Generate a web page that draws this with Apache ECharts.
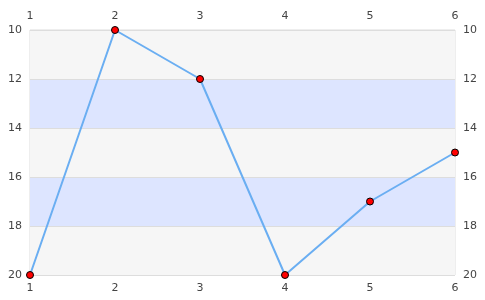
<!DOCTYPE html>
<html><head><meta charset="utf-8">
<script src="https://cdn.jsdelivr.net/npm/echarts@6/dist/echarts.min.js"></script>
<style>html,body{margin:0;padding:0;background:#fff}#c{width:485px;height:300px}</style>
</head><body><div id="c"></div>
<script>
const categories = [1, 2, 3, 4, 5, 6];
const values = [20, 10, 12, 20, 17, 15];
const chart = echarts.init(document.getElementById('c'));
const data = categories.map((c, i) => [c, values[i]]);
const xBase = {type:'value', min:1, max:6, interval:1,
  axisLine:{show:false}, axisTick:{show:false}, splitLine:{show:false},
  axisLabel:{color:'#444', fontSize:11, fontFamily:'DejaVu Sans'}};
const yBase = {type:'value', min:10, max:20, interval:2, inverse:true,
  axisLine:{show:false}, axisTick:{show:false},
  axisLabel:{color:'#444', fontSize:11, fontFamily:'DejaVu Sans'}};
chart.setOption({
  animation:false,
  grid:{left:30, right:30, top:30, bottom:25, show:true, borderColor:'#ddd', borderWidth:1, backgroundColor:'transparent'},
  xAxis:[Object.assign({position:'bottom'}, xBase), Object.assign({position:'top'}, xBase)],
  yAxis:[Object.assign({position:'left', splitLine:{show:true, lineStyle:{color:'#ddd'}},
      splitArea:{show:true, areaStyle:{color:['#f6f6f6','#dde5ff']}}}, yBase),
    Object.assign({position:'right', splitLine:{show:false}}, yBase)],
  series:[{type:'line', data:data, xAxisIndex:0, yAxisIndex:0,
    lineStyle:{color:'#6aaef2', width:2},
    symbol:'circle', symbolSize:7,
    itemStyle:{color:'#ff0000', borderColor:'#000', borderWidth:1}}]
});
</script></body></html>
